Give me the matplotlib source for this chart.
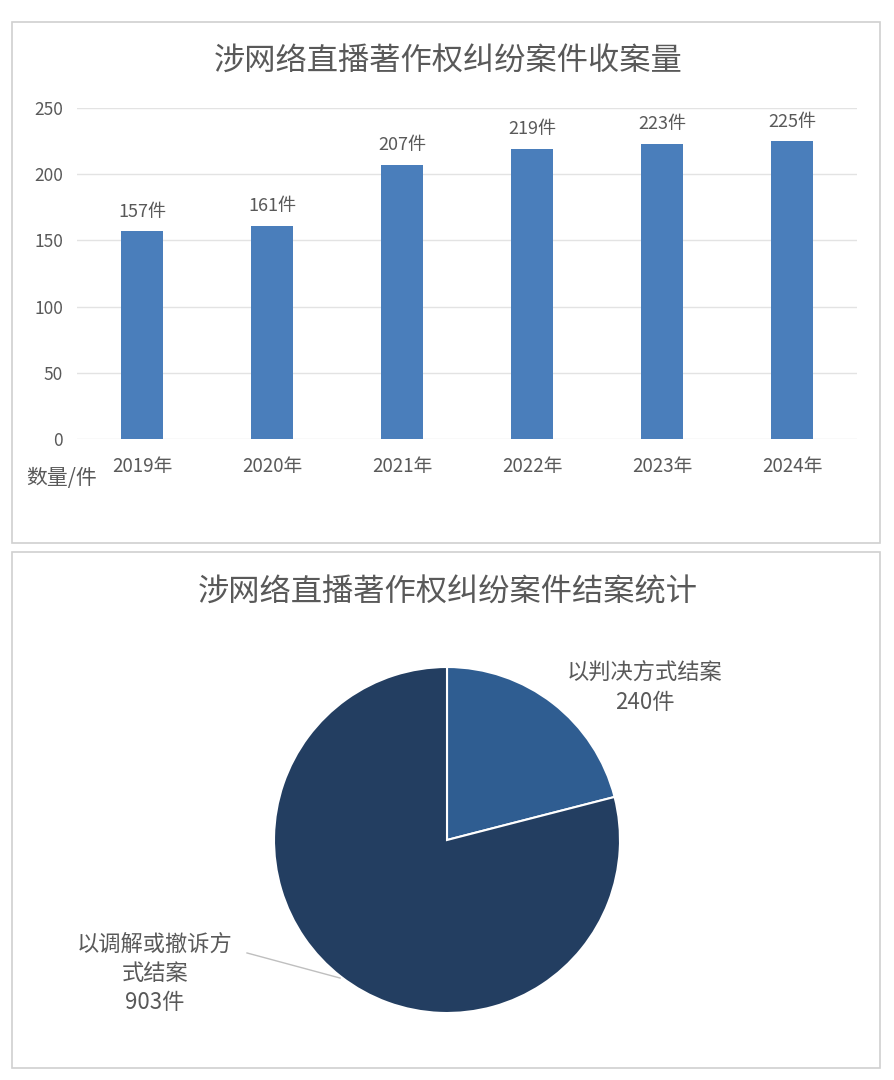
import numpy as np
import matplotlib.pyplot as plt
from matplotlib.patches import Rectangle

plt.rcParams['font.family'] = ['Noto Sans CJK SC', 'DejaVu Sans']

# DATOS
years = ["2019年", "2020年", "2021年", "2022年", "2023年", "2024年"]
cases = [157, 161, 207, 219, 223, 225]
yticks = [0, 50, 100, 150, 200, 250]

pie_labels = ["以判决方式结案\n240件", "以调解或撤诉方\n式结案\n903件"]
pie_values = [240, 903]
pie_colors = ["#2F5D91", "#233E61"]

title1 = "涉网络直播著作权纠纷案件收案量"
title2 = "涉网络直播著作权纠纷案件结案统计"
gray = "#595959"

W, H = 894, 1080
fig = plt.figure(figsize=(W / 100, H / 100), dpi=100)


def fx(px):
    return px / W


def fy(py):
    return 1 - py / H


# marcos de los paneles
for top, bot in [(22, 543), (552, 1068)]:
    fig.patches.append(Rectangle((fx(12), fy(bot)), fx(868), (bot - top) / H,
                                 transform=fig.transFigure, fill=False,
                                 edgecolor="#D0D0D0", linewidth=1.2))

# GRÁFICO DE BARRAS
ax = fig.add_axes([fx(77), fy(439), fx(780), 331 / H])
x = np.arange(len(years))
ax.bar(x, cases, width=0.32, color="#4A7EBB", zorder=3)
for xi, v in zip(x, cases):
    ax.text(xi, v + 8, f"{v}件", ha="center", va="bottom", fontsize=13, color=gray)
ax.set_xlim(-0.5, len(years) - 0.5)
ax.set_ylim(0, 250)
ax.set_yticks(yticks)
ax.set_yticklabels([str(t) for t in yticks], fontsize=12.5, color=gray)
ax.set_xticks(x)
ax.set_xticklabels(years, fontsize=13.5, color=gray)
ax.tick_params(length=0, pad=10)
ax.tick_params(axis="x", pad=12)
ax.grid(axis="y", color="#E3E3E3", linewidth=1, zorder=0)
for s in ax.spines.values():
    s.set_visible(False)
fig.text(fx(62), fy(478), "数量/件", ha="center", va="center", fontsize=15, color=gray)
fig.text(fx(448), fy(62), title1, ha="center", va="center", fontsize=22.5, color=gray)

# GRÁFICO DE TORTA
fig.text(fx(448), fy(592), title2, ha="center", va="center", fontsize=22.5, color=gray)
R = 173
pax = fig.add_axes([fx(447 - R), fy(840 + R), 2 * R / W, 2 * R / H])
pax.pie(pie_values, colors=pie_colors, startangle=90, counterclock=False, radius=1,
        wedgeprops=dict(edgecolor="white", linewidth=1.5))
pax.set_xlim(-1, 1)
pax.set_ylim(-1, 1)
pax.set_aspect("equal")
pax.axis("off")

pax.text(1.145, 0.879, pie_labels[0], ha="center", va="center", fontsize=16,
         color=gray, linespacing=1.35, clip_on=False)
pax.text(-1.69, -0.77, pie_labels[1], ha="center", va="center", fontsize=16,
         color=gray, linespacing=1.35, clip_on=False)
pax.plot([-1.156, -0.618], [-0.653, -0.798], color="#BFBFBF", linewidth=1, clip_on=False)

plt.savefig("out.png", dpi=100)
